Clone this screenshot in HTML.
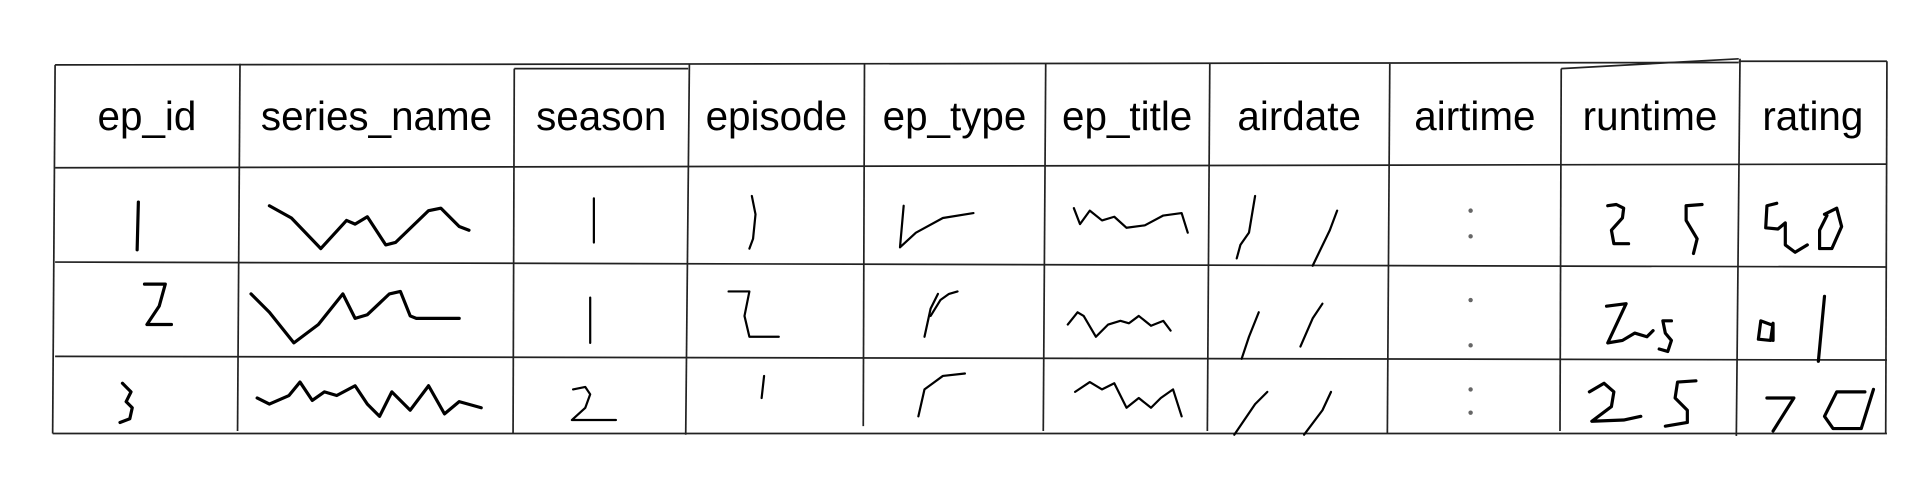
<!DOCTYPE html>
<html>
<head>
<meta charset="utf-8">
<style>
  html,body{margin:0;padding:0;background:#fff;}
  body{width:1920px;height:500px;overflow:hidden;}
  svg{display:block;}
  .hdr{font-family:"Liberation Sans",sans-serif;font-size:33px;fill:#000;text-anchor:middle;}
  .grid{stroke:#222;stroke-width:1.4;fill:none;}
  .ink{stroke:#000;stroke-width:2.6;fill:none;stroke-linejoin:round;stroke-linecap:round;}
  .thin{stroke:#000;stroke-width:1.8;fill:none;stroke-linejoin:round;stroke-linecap:round;}
</style>
</head>
<body>
<svg id="chart" width="1920" height="500" viewBox="0 0 1568 408.3" xmlns="http://www.w3.org/2000/svg">
  <g id="grid"></g>
  <g id="headers"></g>
  <g id="cells"></g>
</svg>
<script>
const columns = ["ep_id","series_name","season","episode","ep_type","ep_title","airdate","airtime","runtime","rating"];
const colEdges = [45,195,420,562,706,853,988,1134,1275,1420,1541];
const rowEdges = [52,137,214,291,354];
const rowValues1 = ["1","~","1","1","v","~","//",":","25","90"];
const rowValues2 = ["2","~","1","2","v","~","//",":","25","91"];
const rowValues3 = ["3","~","2","1","v","~","//",":","25","70"];

const NS = "http://www.w3.org/2000/svg";
const grid = document.getElementById("grid");
const headers = document.getElementById("headers");
const cells = document.getElementById("cells");

function line(x1,y1,x2,y2,name){
  const l=document.createElementNS(NS,"line");
  l.setAttribute("x1",x1);l.setAttribute("y1",y1);l.setAttribute("x2",x2);l.setAttribute("y2",y2);
  l.setAttribute("class","grid");
  
  
  grid.appendChild(l);
}
line(45,53,1420,51,"top-border");
line(1420,50,1541,50,"top-border-right");
line(45,137,1541,134,"header-bottom-line");
line(45,214,1541,218,"row1-bottom-line");
line(45,291,1541,294,"row2-bottom-line");
line(43,354,1541,354,"bottom-border");
const vTops=[53,52,56,52,52,52,52,52,56,48,50];
const vBots=[354,352,354,355,348,352,352,354,352,356,354];
colEdges.forEach((x,i)=>{
  line(x+(i%2?1:0),vTops[i],x-(i%3?1:2),vBots[i],"column-line-"+i);
});
line(420,56,562,56,"season-top");
line(1275,56,1420,48,"runtime-top");

columns.forEach((c,i)=>{
  const t=document.createElementNS(NS,"text");
  t.setAttribute("x",(colEdges[i]+colEdges[i+1])/2);
  t.setAttribute("y",106);
  t.setAttribute("class","hdr");
  t.textContent=c;
  
  
  headers.appendChild(t);
});

const marks = [
 ["ep-id-1","113,165 112,204"],
 ["series-name-1","220,168 238,178 262,203 283,180 290,183 300,177 315,200 323,198 350,172 360,170 375,185 383,188"],
 ["season-1","485,162 485,198"],
 ["episode-1","614,160 617,175 615,195 612,203"],
 ["ep-type-1","738,168 735,202 748,190 770,178 795,174"],
 ["ep-title-1","877,170 882,183 890,172 900,180 910,177 920,186 935,184 950,176 965,174 970,190"],
 ["airdate-1a","1010,211 1013,200 1020,190 1025,160"],
 ["airdate-1b","1072,217 1086,188 1092,172"],
 ["runtime-1-2","1313,168 1320,167 1326,170 1325,178 1316,188 1318,199 1330,199"],
 ["runtime-1-5","1390,167 1377,168 1377,180 1386,195 1383,207"],
 ["rating-1-9","1451,166 1443,168 1442,186 1452,187 1458,182 1458,200 1466,206 1476,200"],
 ["rating-1-0","1490,175 1500,170 1504,185 1496,203 1486,203 1486,188 1492,176"],
 ["ep-id-2","118,232 135,232 130,250 120,265 140,265"],
 ["series-name-2","205,240 220,255 240,280 260,265 280,240 290,260 300,257 318,240 327,238 335,258 340,260 375,260"],
 ["season-2","482,243 482,280"],
 ["episode-2","595,238 612,238 608,258 612,275 636,275"],
 ["ep-type-2a","755,275 760,252 766,240"],
 ["ep-type-2b","760,258 768,245 775,240 782,238"],
 ["ep-title-2","872,265 880,255 885,258 895,275 905,265 915,262 922,264 930,258 940,266 950,262 956,270"],
 ["airdate-2a","1014,293 1020,275 1028,255"],
 ["airdate-2b","1062,283 1072,260 1080,248"],
 ["runtime-2-z","1312,250 1328,248 1313,280 1325,278 1335,272 1345,275 1350,270"],
 ["runtime-2-s","1365,262 1358,262 1360,272 1365,278 1362,287 1355,285"],
 ["rating-2-9","1446,265 1438,262 1436,277 1446,278 1448,264 1448,278"],
 ["rating-2-1","1490,242 1485,295"],
 ["ep-id-3","100,313 107,320 103,328 108,333 106,342 98,345"],
 ["series-name-3","210,325 220,330 236,323 245,312 255,327 265,320 275,323 290,315 300,330 310,340 320,320 335,335 350,315 363,338 375,328 393,333"],
 ["season-3","468,318 478,316 482,322 478,333 467,343 503,343"],
 ["episode-3","624,307 622,325"],
 ["ep-type-3","750,340 755,318 770,307 788,305"],
 ["ep-title-3","878,320 890,312 900,318 910,313 920,333 930,325 940,333 948,325 958,318 965,340"],
 ["airdate-3a","1008,355 1025,330 1035,320"],
 ["airdate-3b","1065,355 1080,335 1087,320"],
 ["runtime-3-2","1298,320 1310,313 1318,320 1316,332 1300,344 1326,343 1340,340"],
 ["runtime-3-5","1385,311 1370,312 1368,325 1378,335 1378,345 1360,348"],
 ["rating-3-7","1443,325 1465,325 1448,352"],
 ["rating-3-0","1523,320 1500,320 1490,340 1497,350 1520,350 1530,318"]
];
marks.forEach(m=>{
  const p=document.createElementNS(NS,"polyline");
  p.setAttribute("points",m[1]);
  p.setAttribute("class",/ep-type|ep-title|airdate|season|episode/.test(m[0])?"thin":"ink");
  
  
  cells.appendChild(p);
});
[[172,193],[245,282],[318,337]].forEach((ys,r)=>{
  ys.forEach((y,k)=>{
    const c=document.createElementNS(NS,"circle");
    c.setAttribute("cx",1201);c.setAttribute("cy",y);c.setAttribute("r",1.8);
    c.setAttribute("fill","#666");
    
    
    cells.appendChild(c);
  });
});
</script>
</body>
</html>
